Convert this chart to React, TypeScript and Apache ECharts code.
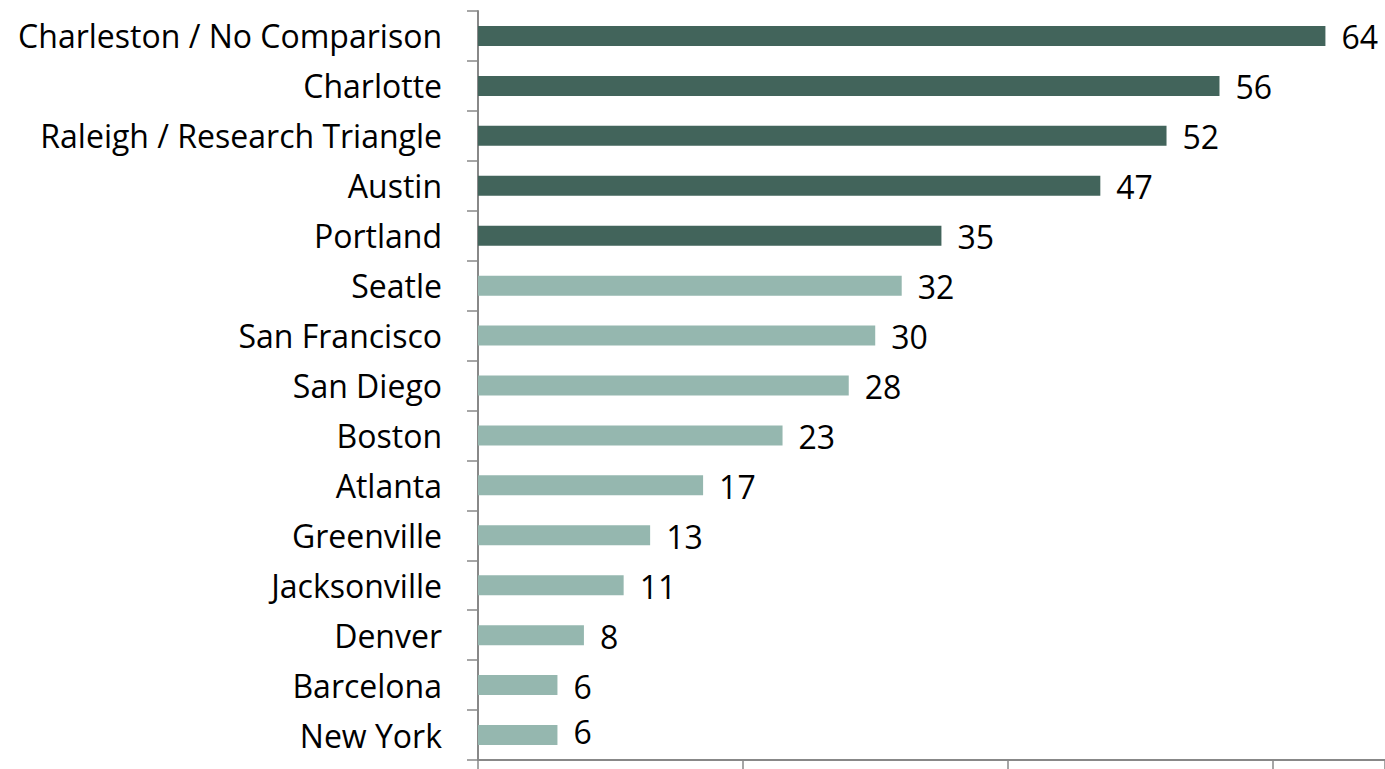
import React, { useEffect, useRef } from "react";
import * as echarts from "echarts";

const cities = [
  "Charleston / No Comparison",
  "Charlotte",
  "Raleigh / Research Triangle",
  "Austin",
  "Portland",
  "Seatle",
  "San Francisco",
  "San Diego",
  "Boston",
  "Atlanta",
  "Greenville",
  "Jacksonville",
  "Denver",
  "Barcelona",
  "New York",
];
const values = [64, 56, 52, 47, 35, 32, 30, 28, 23, 17, 13, 11, 8, 6, 6];
const highlighted = ["Charleston / No Comparison", "Charlotte", "Raleigh / Research Triangle", "Austin", "Portland"];

const DARK = "#42645B";
const LIGHT = "#95B7AF";
const FONT = "'Open Sans', 'Noto Sans', sans-serif";

export default function App() {
  const ref = useRef<HTMLDivElement>(null);
  useEffect(() => {
    if (!ref.current) return;
    const chart = echarts.init(ref.current, null, { renderer: "svg" });
    const data = values.map((v, i) => ({
      value: v,
      itemStyle: { color: highlighted.includes(cities[i]) ? DARK : LIGHT },
      label: i === values.length - 1 ? { offset: [0, -4] } : undefined,
    }));
    chart.setOption({
      animation: false,
      grid: { left: 478, right: 0, top: 11, bottom: 9, containLabel: false },
      xAxis: {
        type: "value",
        min: 0,
        max: 68.5,
        interval: 20,
        axisLine: { show: true, lineStyle: { color: "#888888", width: 2 } },
        axisTick: { show: true, inside: false, length: 9, lineStyle: { color: "#888888", width: 1.5 } },
        axisLabel: { show: false },
        splitLine: { show: false },
      },
      yAxis: {
        type: "category",
        inverse: true,
        data: cities,
        axisLine: { show: true, lineStyle: { color: "#888888", width: 2 } },
        axisTick: { show: true, inside: false, length: 11, lineStyle: { color: "#888888", width: 1.5 } },
        axisLabel: { margin: 36, color: "#000000", fontSize: 32, fontFamily: FONT },
      },
      series: [
        {
          type: "bar",
          data,
          barWidth: 20,
          label: {
            show: true,
            position: "right",
            distance: 16,
            color: "#000000",
            fontSize: 32,
            fontFamily: FONT,
            offset: [0, 1],
          },
        },
      ],
    });
    return () => chart.dispose();
  }, []);
  return (
    <div
      ref={ref}
      style={{ position: "fixed", left: 0, top: 0, width: 1385, height: 769, background: "#ffffff" }}
    />
  );
}
